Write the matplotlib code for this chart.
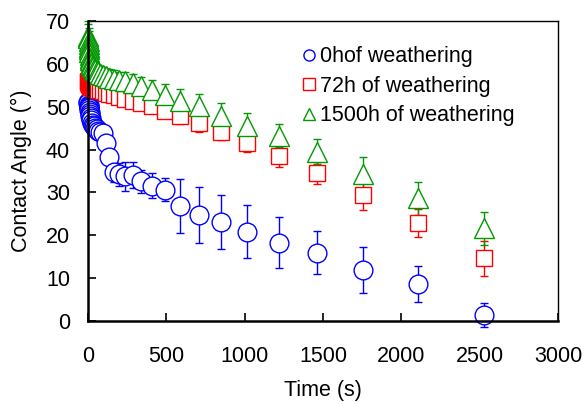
import numpy as np
import matplotlib
matplotlib.use("Agg")
import matplotlib.pyplot as plt
from matplotlib.lines import Line2D

plt.rcParams['font.family'] = ['Liberation Sans', 'DejaVu Sans']

# time points (s)
time_s = [2, 3, 4, 5, 6, 7, 9, 11, 13, 15, 18, 22, 26, 32, 38, 46, 55, 66, 79,
          95, 114, 137, 164, 197, 236, 284, 340, 408, 490, 588, 706, 847, 1016,
          1219, 1463, 1756, 2107, 2528]

# 0 h of weathering
angle_0h = [51.0, 50.8, 50.5, 50.2, 50.0, 49.6, 49.2, 48.8, 48.3, 47.8, 47.3,
            46.8, 46.3, 45.8, 45.4, 45.0, 44.7, 44.4, 44.2, 43.8, 41.5, 38.3,
            34.8, 34.2, 33.8, 34.0, 32.6, 31.6, 30.6, 26.9, 24.7, 23.0, 20.8,
            18.3, 15.9, 11.9, 8.6, 1.4]
err_0h = [0.8, 0.8, 0.8, 0.8, 0.8, 0.8, 0.8, 0.8, 0.8, 0.8, 0.8, 0.8, 0.9,
          0.9, 0.9, 1.0, 1.0, 1.0, 1.1, 1.2, 1.5, 1.8, 2.3, 2.6, 3.4, 3.0,
          2.7, 2.9, 2.7, 6.3, 6.5, 6.3, 6.2, 6.0, 5.0, 5.4, 4.2, 2.7]

# 72 h of weathering
angle_72h = [56.0, 55.8, 55.6, 55.5, 55.4, 55.3, 55.2, 55.0, 54.9, 54.8, 54.7,
             54.6, 54.5, 54.4, 54.3, 54.2, 54.1, 54.0, 53.8, 53.6, 53.3, 53.0,
             52.7, 52.3, 51.9, 51.4, 50.8, 50.2, 49.1, 47.9, 46.1, 44.2, 41.6,
             38.6, 34.5, 29.3, 22.8, 14.6]
err_72h = [0.8, 0.8, 0.8, 0.8, 0.8, 0.8, 0.8, 0.8, 0.8, 0.8, 0.9, 0.9, 0.9,
           0.9, 1.0, 1.0, 1.0, 1.1, 1.1, 1.2, 1.2, 1.3, 1.3, 1.4, 1.5, 1.5,
           1.6, 1.7, 1.8, 1.9, 2.1, 2.0, 2.2, 2.7, 2.5, 3.3, 3.3, 4.0]

# 1500 h of weathering
angle_1500h = [66.5, 66.0, 65.3, 64.7, 64.0, 63.4, 62.7, 62.0, 61.4, 60.9,
               60.4, 60.0, 59.6, 59.2, 58.9, 58.6, 58.3, 58.0, 57.7, 57.4,
               57.1, 56.8, 56.5, 56.2, 55.9, 55.5, 54.8, 54.0, 52.8, 51.4,
               50.1, 47.9, 45.5, 43.2, 39.5, 34.4, 28.6, 21.6]
err_1500h = [3.5, 3.3, 3.1, 2.9, 2.7, 2.5, 2.3, 2.1, 2.0, 1.9, 1.8, 1.8, 1.7,
             1.7, 1.7, 1.7, 1.7, 1.8, 1.8, 1.8, 1.9, 1.9, 2.0, 2.0, 2.1, 2.1,
             2.2, 2.2, 2.5, 2.8, 2.8, 2.9, 3.0, 2.7, 2.9, 3.9, 3.9, 3.9]

labels = ["0hof weathering", "72h of weathering", "1500h of weathering"]
colors = ["#0000ff", "#ff0000", "#009900"]
markers = ["o", "s", "^"]
sizes = [13.5, 11, 14]

fig = plt.figure(figsize=(5.84, 4.04), dpi=100)
fig.subplots_adjust(left=0.1507, right=0.9555, top=0.948, bottom=0.2054)
ax = fig.add_subplot(111)

series = [(angle_0h, err_0h), (angle_72h, err_72h), (angle_1500h, err_1500h)]
for (y, e), c, m, s in zip(series, colors, markers, sizes):
    ax.errorbar(time_s, y, yerr=e, fmt=m, color=c, ecolor=c, mfc="white",
                mec=c, mew=1.0, ms=s, elinewidth=1.0, capsize=3, capthick=1.0,
                clip_on=False)

fs = 15.5
ax.set_xlim(0, 3000)
ax.set_ylim(0, 70)
ax.set_xticks(np.arange(0, 3001, 500))
ax.set_yticks(np.arange(0, 71, 10))
ax.tick_params(axis="both", direction="in", length=6, width=1.2,
               labelsize=fs, top=False, right=False)
ax.tick_params(axis="x", pad=18)
ax.tick_params(axis="y", pad=13)
ax.spines["left"].set_linewidth(1.8)
ax.spines["bottom"].set_linewidth(1.8)
ax.spines["top"].set_linewidth(1.0)
ax.spines["right"].set_linewidth(1.0)

ax.set_xlabel("Time (s)", fontsize=fs, labelpad=9)
ax.set_ylabel("Contact Angle (°)", fontsize=fs, labelpad=10)

handles = [Line2D([], [], ls="none", marker=m, mfc="white", mec=c, mew=1.0,
                  ms=8) for c, m in zip(colors, markers)]
ax.legend(handles, labels, loc="upper left", bbox_to_anchor=(0.436, 0.945),
          frameon=False, fontsize=fs, handlelength=0.7, handletextpad=0.15,
          labelspacing=0.4, borderaxespad=0)

fig.savefig("out.png", dpi=100)
